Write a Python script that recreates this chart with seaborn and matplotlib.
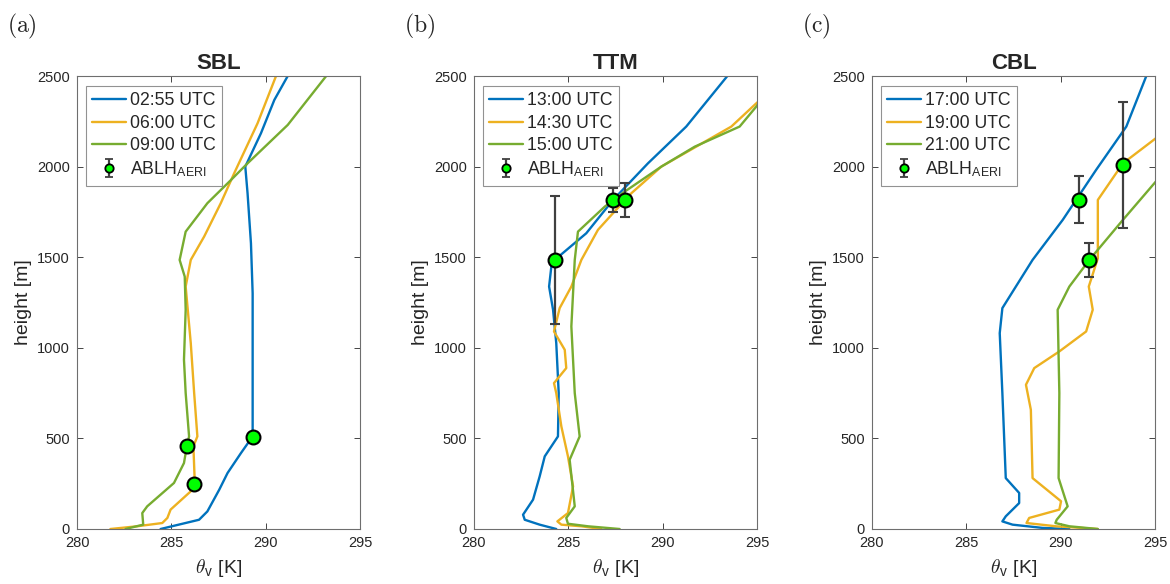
import numpy as np
import pandas as pd
import matplotlib
matplotlib.use("Agg")
import matplotlib.pyplot as plt
import seaborn as sns

# ---------------- data ----------------
# Panel (a) SBL
sbl_labels = ["02:55 UTC", "06:00 UTC", "09:00 UTC"]
sbl_t1 = [284.43, 286.47, 286.91, 287.54, 287.98, 288.69, 289.31, 289.31, 289.31, 289.22, 289.04, 288.92, 289.75, 290.46, 291.17]
sbl_h1 = [0, 51, 97, 217, 309, 419, 511, 566, 1301, 1577, 1853, 2000, 2184, 2368, 2500]
sbl_t2 = [281.77, 283.19, 284.52, 284.79, 284.96, 286.03, 286.24, 286.17, 286.38, 286.21, 286.03, 285.76, 286.03, 286.74, 287.62, 288.33, 289.57, 290.55]
sbl_h2 = [0, 15, 33, 61, 107, 208, 263, 456, 511, 750, 1026, 1338, 1485, 1614, 1798, 1963, 2239, 2500]
sbl_t3 = [282.57, 283.51, 283.46, 283.72, 285.14, 285.67, 285.82, 285.94, 285.76, 285.67, 285.76, 285.71, 285.44, 285.76, 286.91, 288.16, 289.04, 291.17, 293.21]
sbl_h3 = [0, 24, 88, 125, 254, 364, 456, 511, 750, 934, 1210, 1393, 1485, 1641, 1798, 1926, 2018, 2230, 2500]
sbl_ablh_t = [289.34, 285.85, 286.22]
sbl_ablh_h = [509, 456, 248]
sbl_ablh_err = [8, 8, 8]

# Panel (b) TTM
ttm_labels = ["13:00 UTC", "14:30 UTC", "15:00 UTC"]
ttm_t1 = [284.36, 283.48, 282.69, 282.60, 283.13, 283.48, 283.75, 284.45, 284.49, 284.36, 284.19, 283.98, 284.10, 284.28, 285.95, 287.37, 289.22, 291.25, 293.43]
ttm_h1 = [0, 24, 51, 79, 162, 290, 401, 511, 750, 1026, 1210, 1338, 1449, 1485, 1632, 1816, 2018, 2221, 2500]
ttm_t2 = [286.75, 285.69, 284.63, 284.42, 284.98, 285.25, 284.98, 284.63, 284.36, 284.24, 284.89, 284.81, 284.24, 284.54, 285.16, 285.69, 286.57, 287.37, 288.34, 289.93, 293.64, 294.96, 295.3]
ttm_h2 = [0, 15, 24, 42, 88, 235, 401, 566, 750, 805, 888, 989, 1090, 1219, 1338, 1485, 1651, 1743, 1853, 2000, 2221, 2349, 2380]
ttm_t3 = [287.72, 286.04, 284.98, 284.89, 285.34, 285.07, 285.60, 285.34, 285.16, 285.34, 285.51, 286.93, 287.99, 289.93, 291.70, 294.08, 294.96, 295.3]
ttm_h3 = [0, 15, 29, 61, 125, 382, 511, 750, 1118, 1485, 1641, 1779, 1862, 2000, 2110, 2221, 2331, 2380]
ttm_ablh_t = [284.28, 287.37, 287.99]
ttm_ablh_h = [1485, 1816, 1816]
ttm_ablh_err = [355, 64, 92]

# Panel (c) CBL
cbl_labels = ["17:00 UTC", "19:00 UTC", "21:00 UTC"]
cbl_t1 = [290.46, 289.04, 287.45, 286.91, 287.09, 287.80, 287.80, 287.09, 286.91, 286.77, 286.91, 288.51, 290.11, 291.88, 293.48, 294.54]
cbl_h1 = [0, 6, 24, 42, 70, 143, 199, 281, 750, 1081, 1219, 1485, 1706, 1982, 2221, 2500]
cbl_t2 = [291.97, 289.75, 288.19, 288.33, 289.93, 290.02, 288.51, 288.42, 288.16, 288.60, 289.93, 291.35, 291.70, 291.49, 291.97, 291.97, 293.30, 295.04]
cbl_h2 = [0, 15, 33, 61, 107, 153, 281, 658, 796, 888, 980, 1090, 1210, 1338, 1494, 1816, 2018, 2156]
cbl_t3 = [291.97, 290.46, 289.72, 289.79, 290.37, 289.89, 289.93, 289.84, 290.46, 291.52, 293.30, 295.04]
cbl_h3 = [0, 15, 33, 51, 125, 281, 750, 1210, 1338, 1485, 1706, 1917]
cbl_ablh_t = [290.96, 291.49, 293.30]
cbl_ablh_h = [1816, 1485, 2009]
cbl_ablh_err = [130, 95, 350]

titles = ["SBL", "TTM", "CBL"]
panel_tags = ["(a)", "(b)", "(c)"]
xticks = [280, 285, 290, 295]
yticks = [0, 500, 1000, 1500, 2000, 2500]

# ---------------- style ----------------
sns.set_style("ticks")
plt.rcParams["font.family"] = ["Liberation Sans", "DejaVu Sans"]
plt.rcParams["mathtext.fontset"] = "cm"

colors = ["#0072BD", "#EDB120", "#77AC30"]
axcol = "#262626"

fig = plt.figure(figsize=(11.7, 5.84), dpi=100)
lefts = [77 / 1170, 474 / 1170, 872 / 1170]
bottom = 1 - 529 / 584
width = 283 / 1170
height = 453 / 584

panels = [
    (sbl_labels, [(sbl_t1, sbl_h1), (sbl_t2, sbl_h2), (sbl_t3, sbl_h3)], (sbl_ablh_t, sbl_ablh_h, sbl_ablh_err)),
    (ttm_labels, [(ttm_t1, ttm_h1), (ttm_t2, ttm_h2), (ttm_t3, ttm_h3)], (ttm_ablh_t, ttm_ablh_h, ttm_ablh_err)),
    (cbl_labels, [(cbl_t1, cbl_h1), (cbl_t2, cbl_h2), (cbl_t3, cbl_h3)], (cbl_ablh_t, cbl_ablh_h, cbl_ablh_err)),
]

for i, (labels, series, ablh) in enumerate(panels):
    ax = fig.add_axes([lefts[i], bottom, width, height])
    for j, (t, h) in enumerate(series):
        df = pd.DataFrame({"theta": t, "height": h})
        sns.lineplot(data=df, x="theta", y="height", sort=False, estimator=None,
                     color=colors[j], lw=1.7, label=labels[j], ax=ax)
    at, ah, ae = ablh
    ax.errorbar(at, ah, yerr=ae, fmt="o", ms=10, mfc="#00FF00", mec="black",
                mew=1.5, ecolor="#404040", elinewidth=1.6, capsize=3.5, capthick=1.6,
                zorder=5)
    # legend proxy (smaller marker, as in the reference legend)
    ax.errorbar([np.nan], [np.nan], yerr=[1], fmt="o", ms=6, mfc="#00FF00", mec="black",
                mew=1.3, ecolor="#404040", elinewidth=1.6, capsize=3, capthick=1.6,
                label=r"ABLH$_{\mathregular{AERI}}$")
    ax.set_xlim(280, 295)
    ax.set_ylim(0, 2500)
    ax.set_xticks(xticks)
    ax.set_yticks(yticks)
    ax.tick_params(direction="in", length=4, width=0.6, top=True, right=True,
                   labelsize=10.5, colors=axcol, pad=5)
    for sp in ax.spines.values():
        sp.set_visible(True)
        sp.set_color("#6e6e6e")
        sp.set_linewidth(0.8)
    ax.set_title(titles[i], fontsize=16, fontweight="bold", pad=5)
    ax.set_ylabel("height [m]", fontsize=14, color=axcol, labelpad=4)
    ax.set_xlabel(r"$\theta_{\mathregular{v}}$ [K]", fontsize=14, color=axcol, labelpad=5)
    leg = ax.legend(loc="upper left", fontsize=12.7, frameon=True, fancybox=False,
                    handlelength=1.9, handletextpad=0.25, borderpad=0.35,
                    labelspacing=0.3, bbox_to_anchor=(0.02, 0.985), borderaxespad=0.2)
    leg.get_frame().set_edgecolor("#777777")
    leg.get_frame().set_linewidth(0.8)
    fig.text(lefts[i] - 70 / 1170, 0.955, r"$\mathrm{" + panel_tags[i] + "}$", fontsize=17,
             ha="left", va="center")

fig.savefig("out.png", dpi=100)
